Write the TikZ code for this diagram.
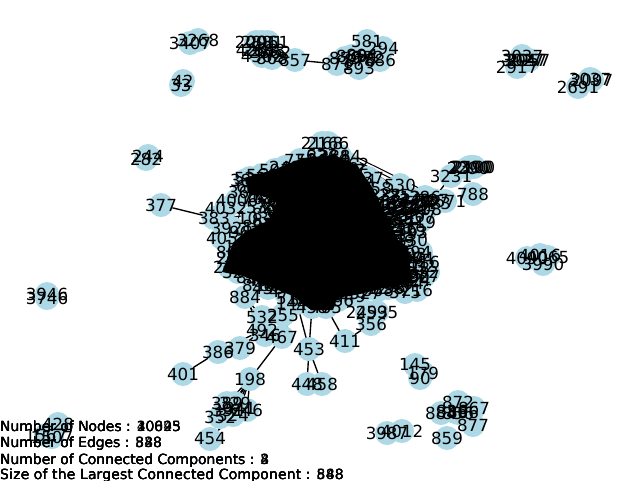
\documentclass[tikz,border=0pt]{standalone}
\usepackage{fontspec}
\setmainfont{DejaVu Sans}
\pgfdeclarelayer{edgelayer}
\pgfsetlayers{edgelayer,main}
\definecolor{nodeblue}{HTML}{ADD8E6}
\tikzset{
  gnode/.style={circle,fill=nodeblue,draw=none,minimum size=24pt,inner sep=0pt},
  glabel/.style={inner sep=0pt,font=\fontsize{16.67}{18}\selectfont,text=black},
  gedge/.style={black,line width=1.35pt},
  hedge/.style={black,line width=1pt},
  stat/.style={anchor=base west,inner sep=0pt,font=\fontsize{13.9}{15}\selectfont,text=black}
}
\def\periph{a1/198/40/3268,a2/190/43/3407,a3/183/81/42,a4/181/85/33,
b1/256/42/2001,b2/262/42/2881,b3/268/42/2961,b4/257/50/4268,b5/264/50/2668,b6/270/52/2862,b7/262/56/4362,b8/272/58/868,b9/295/60/857,
c1/337/64/871,c2/345/58/859,c3/352/56/869,c4/359/68/893,c5/367/41/581,c6/362/55/894,c7/368/57/872,c8/383/48/294,c9/380/60/886,c10/360/60/876,
d1/517/67/2917,d2/523/60/3027,d3/526/60/3047,d4/529/60/2957,d5/522/56/3037,
d6/578/87/2691,d7/592/80/2097,d8/590/79/3037,
e1/148/156/244,e2/146/159/282,e3/47/294/3946,e4/47/298/3746,
g1/451/176/3231,g2/470/167/2300,g3/472/167/2190,g4/468/168/2290,g5/474/167/2100,g6/473/194/788,g7/527/258/4090,g8/540/255/4016,g9/548/257/4065,g10/543/264/3990,
s1/161/205/377,
k1/262/317/532,k2/283/315/255,k3/262/330/492,k4/265/335/346,k5/282/337/467,k6/240/348/379,k7/218/352/386,k8/183/374/401,k9/309/349/453,k10/345/341/411,k11/371/324/356,k12/367/312/2493,k13/377/312/2595,k14/250/379/198,k15/307/384/448,k16/322/384/458,
m1/415/365/145,m2/420/378/90,m3/423/373/179,m4/387/433/3987,m5/402/431/4012,m6/447/438/859,m7/473/425/877,m8/458/402/872,m9/474/408/867,m10/441/413/884,m11/452/411/836,m12/458/413/856,m13/463/412/886,
q1/227/403/389,q2/235/403/329,q3/228/410/391,q4/240/408/341,q5/247/410/246,q6/220/417/352,q7/233/415/324,q8/210/439/454,
r1/58/424/428,r2/46/435/1567,r3/52/437/1507}
\def\fringe{322/143/2168,328/143/2166,285/167/248,298/168/274,328/156/2264,340/156/2884,348/164/2762,368/178/737,376/188/758,400/185/530,386/202/256,404/205/376,420/203/557,433/200/587,445/201/2671,420/216/407,410/230/479,404/241/99,416/254/93,421/252/94,425/266/32,428/272/22,420/280/24,417/290/216,360/293/2527,395/287/98,378/290/368,246/180/385,244/192/364,237/200/4006,226/208/4032,214/218/383,232/228/3921,222/238/405,232/252/866,229/267/278,262/207/535,253/218/103,252/277/854,258/285/896,275/285/864,245/297/884,297/303/1449,312/307/458,326/307/465}
\def\dense{385/195,395/195,405/197,415/200,425/197,435/203,380/205,392/207,403/209,414/209,426/209,398/218,409/219,420/222,402/230,412/232,412/240,408/258,418/258,405/265,414/268,424/262,404/275,414/277,424/276,408/283,398/280,388/288,405/292,372/288,350/296,338/300,
250/178,262/175,275/170,252/186,262/188,258/198,268/195,272/205,282/205,268/214,258/226,268/224,245/232,252/240,262/238,240/246,250/250,232/258,242/262,238/272,250/268,262/280,268/288,285/292,292/298,305/300,
312/160,322/155,335/160,350/170,360/180,300/160}
\begin{document}
\begin{tikzpicture}[x=1pt,y=-1pt]
\useasboundingbox (0,0) rectangle (640,480);
% hubs inside the mass
\coordinate (h1) at (320,230);
\coordinate (h2) at (295,250);
\coordinate (h3) at (350,250);
% node circles
\foreach \n/\x/\y/\t in \periph {\node[gnode] (\n) at (\x,\y) {};}
\foreach \x/\y/\t [count=\i] in \fringe {\node[gnode] (f\i) at (\x,\y) {};}
\foreach \x/\y [count=\i] in \dense {\node[gnode] (x\i) at (\x,\y) {};}
% connectors that pass under the circles
\begin{pgfonlayer}{edgelayer}
\foreach \p/\q in {s1/f32,b9/c1,g1/f14,k1/f42,k2/f43,k3/f42,k7/k3,k8/k7,k6/k3,k14/k5,k9/f43,k9/f44,k10/f45,k11/k10,k9/k15,k9/k16,k14/q1,k14/q2,k14/q4,k14/q5,k14/q7,k14/q3,q8/q7,k4/f42,k5/f43,k12/f25,d5/d1,m1/m3,g1/g2}
  {\draw[gedge] (\p.center) -- (\q.center);}
\foreach \i in {1,...,45} {
  \pgfmathtruncatemacro{\ja}{mod(\i*7,45)+1}
  \pgfmathtruncatemacro{\jb}{mod(\i*13,45)+1}
  \draw[hedge] (f\i.center) -- (h1);
  \draw[hedge] (f\i.center) -- (f\ja.center);
  \draw[hedge] (f\i.center) -- (f\jb.center);
}
\end{pgfonlayer}
% the tangle of the largest component
\foreach \x/\y [count=\i] in \dense {
  \draw[hedge] (x\i.center) -- (h1);
  \draw[hedge] (x\i.center) -- (h2);
  \draw[hedge] (x\i.center) -- (h3);
}
% dense mass of the largest component
\fill[black,line join=round] (303,158) -- (333,155) -- (357,165) -- (372,187) -- (382,207) -- (390,222) -- (398,240) -- (408,247) -- (412,283) -- (387,287) -- (360,294) -- (337,298) -- (333,310) -- (311,310) -- (293,296) -- (273,288) -- (243,276) -- (222,272) -- (233,243) -- (245,232) -- (270,220) -- (277,200) -- (250,193) -- (244,178) -- (273,170) -- cycle;
% labels
\foreach \n/\x/\y/\t in \periph {\node[glabel] (\n-t) at (\x,\y) {\t};}
\foreach \x/\y/\t [count=\i] in \fringe {\node[glabel] (f\i-t) at (\x,\y) {\t};}
\foreach \x/\y [count=\i] in \dense {
  \pgfmathtruncatemacro{\lab}{mod(\i*37+101,899)+100}
  \node[glabel] (x\i-t) at (\x,\y) {\lab};
}
% statistics, printed several times over
\foreach \a/\b/\c/\d [count=\i] in {10095/838/2/888,20825/548/3/548,30643/888/4/848,40025/328/8/588} {
  \node[stat] (sa\i) at (0,431) {Number of Nodes : \a};
  \node[stat] (sb\i) at (0,447.5) {Number of Edges : \b};
  \node[stat] (sc\i) at (0,464) {Number of Connected Components : \c};
  \node[stat] (sd\i) at (0,479.5) {\addfontfeature{LetterSpace=1.5}Size of the Largest Connected Component : \d};
}
\end{tikzpicture}
\end{document}
